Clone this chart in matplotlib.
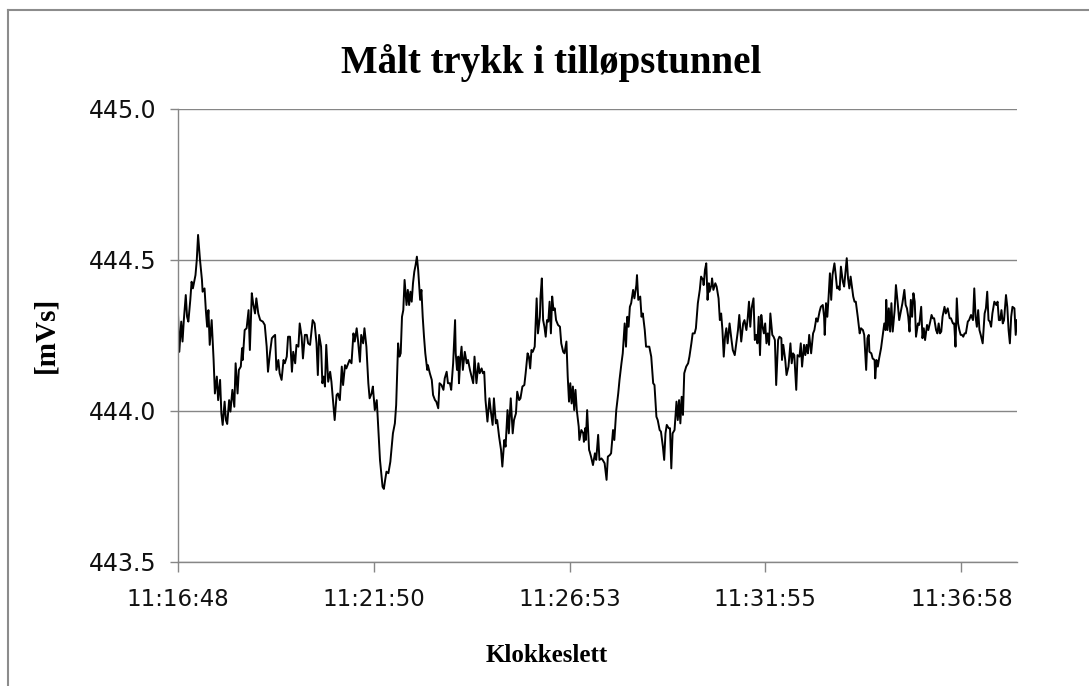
import matplotlib
matplotlib.use("Agg")
import matplotlib.pyplot as plt
from matplotlib.lines import Line2D
from matplotlib.ticker import FixedLocator, FuncFormatter

# Logging start: 11:16:48, time axis in seconds after start
start_of_log = 11 * 3600 + 16 * 60 + 48
tick_seconds = [0, 302, 605, 907, 1210]
y_ticks = [443.5, 444.0, 444.5, 445.0]

title = "Målt trykk i tilløpstunnel"
x_title = "Klokkeslett"
y_title = "[mVs]"

elapsed_s = [
    0, 2, 5, 7, 9, 12, 14, 16, 19, 21,
    23, 25, 27, 29, 31, 34, 37, 38, 41, 43,
    45, 47, 49, 52, 55, 57, 60, 62, 65, 67,
    69, 72, 74, 76, 79, 81, 84, 87, 89, 92,
    94, 97, 99, 100, 103, 106, 109, 111, 114, 116,
    119, 121, 124, 127, 131, 134, 137, 139, 142, 145,
    147, 150, 152, 155, 157, 160, 163, 165, 168, 170,
    173, 176, 178, 181, 183, 186, 188, 191, 193, 196,
    199, 201,
    204, 208, 211, 214, 216, 218, 221, 223, 225, 227,
    229, 232, 235, 237, 240, 242, 245, 247, 250, 253,
    255, 258, 260, 263, 265, 268, 271, 273, 276, 278,
    281, 283, 286, 288, 291, 294, 296, 299, 301, 304,
    307, 308, 312, 316, 318, 320, 322, 325, 328, 332,
    335, 337, 340, 342, 344, 346, 348, 350, 353, 355,
    357, 359, 361, 363, 365, 367, 369, 371, 374, 376,
    378, 380, 382, 385, 386, 389, 392, 394, 397, 399,
    402, 404, 407, 410, 412, 415, 417,
    420, 422, 425, 428, 429, 431, 433, 434, 436, 438,
    440, 443, 446, 448, 451, 453, 456, 458, 461, 464,
    466, 469, 471, 473, 475, 478, 481, 483, 486, 488,
    491, 493, 496, 499, 501, 504, 506, 509, 511, 514,
    517, 519, 522, 524, 527, 529, 532, 535, 537, 540,
    542, 544, 546, 548, 551, 554, 556, 559, 560, 562,
    564, 566, 568, 570, 572, 574, 576, 578, 580, 582,
    584, 587, 590, 592, 595, 597, 600, 602, 604, 606,
    608, 610, 612, 614, 616, 619, 620, 623, 626, 627,
    629, 630, 632, 635,
    636, 638, 641, 644, 646, 649, 651, 654, 656, 659,
    662, 664, 667, 669, 672, 674, 677, 680, 682, 685,
    687, 690, 692, 694, 696, 698, 700, 703, 705, 708,
    709, 711, 714, 716, 718, 721, 723, 726, 728, 731,
    734, 736, 739, 741, 744, 746, 749, 751, 753, 755,
    758, 760, 762, 764, 767, 770, 772, 774, 776, 778,
    780, 782, 785, 788, 790, 793, 795, 798, 800, 803,
    806, 808, 811, 812, 814, 816, 818, 820, 821, 824,
    825, 827, 830, 832, 835, 837, 839, 841, 843, 845,
    847, 849,
    852, 855, 857, 860, 862, 865, 867, 870, 873, 875,
    878, 880, 882, 884, 886, 889, 891, 893, 895, 897,
    899, 901, 903, 905, 907, 909, 911, 913, 915, 918,
    920, 922, 924, 927, 929, 932, 933, 935, 938, 940,
    943, 946, 948, 950, 952, 955, 957, 960, 962, 964,
    967, 969, 971, 973, 975, 978, 981, 983, 986, 988,
    991, 993, 996, 998, 999, 1001, 1003, 1005, 1007, 1009,
    1011, 1014, 1016, 1018, 1020, 1022, 1024, 1027, 1029, 1031,
    1033, 1035, 1037, 1039, 1041, 1043, 1045, 1047, 1050, 1053,
    1055, 1058, 1060, 1063, 1065, 1067,
    1068, 1071, 1073, 1076, 1077, 1079, 1081, 1083, 1086, 1089,
    1091, 1093, 1094, 1096, 1098, 1100, 1102, 1104, 1107, 1109,
    1112, 1114, 1117, 1119, 1122, 1124, 1126, 1128, 1130, 1132,
    1134, 1136, 1138, 1140, 1143, 1145, 1148, 1150, 1152, 1154,
    1157, 1159, 1162, 1164, 1166, 1168, 1171, 1173, 1175, 1177,
    1179, 1181, 1184, 1186, 1189, 1192, 1194, 1197, 1199, 1201,
    1203, 1205, 1207, 1209, 1211, 1213, 1215, 1217, 1220, 1222,
    1225, 1228, 1230, 1232, 1234, 1236, 1238, 1240, 1243, 1246,
    1248, 1250, 1252, 1254, 1256, 1258, 1261, 1264, 1266, 1268,
    1270, 1272, 1274, 1276, 1279, 1281, 1283, 1285, 1287, 1289,
    1292, 1294, 1296,
]

pressure_mvs = [
    444.323, 444.196, 444.296, 444.230, 444.301, 444.384, 444.312, 444.296, 444.368, 444.428,
    444.406, 444.428, 444.450, 444.500, 444.583, 444.500, 444.434, 444.395, 444.406, 444.334,
    444.279, 444.334, 444.219, 444.301, 444.169, 444.058, 444.114, 444.036, 444.103, 443.992,
    443.954, 444.031, 443.970, 443.957, 444.036, 443.998, 444.070, 444.014, 444.158, 444.058,
    444.136, 444.147, 444.208, 444.169, 444.268, 444.274, 444.334, 444.202, 444.390, 444.357,
    444.323, 444.373, 444.323, 444.301, 444.296, 444.285, 444.213, 444.130, 444.191, 444.241,
    444.246, 444.252, 444.136, 444.169, 444.125, 444.103, 444.169, 444.158, 444.180, 444.246,
    444.246, 444.130, 444.196, 444.158, 444.219, 444.213, 444.290, 444.246, 444.174, 444.252,
    444.252, 444.224,
    444.219, 444.301, 444.290, 444.224, 444.119, 444.252, 444.213, 444.092, 444.114, 444.081,
    444.219, 444.097, 444.130, 444.097, 444.020, 443.970, 444.053, 444.058, 444.036, 444.147,
    444.086, 444.152, 444.141, 444.158, 444.169, 444.158, 444.257, 444.230, 444.274, 444.235,
    444.163, 444.252, 444.224, 444.274, 444.213, 444.092, 444.042, 444.058, 444.081, 444.003,
    444.036, 443.998, 443.838, 443.749, 443.742, 443.772, 443.799, 443.794, 443.832, 443.926,
    443.959, 444.020, 444.224, 444.180, 444.191, 444.312, 444.334, 444.434, 444.351, 444.401,
    444.351, 444.395, 444.362, 444.423, 444.461, 444.483, 444.511, 444.467, 444.368, 444.401,
    444.312, 444.246, 444.191, 444.136, 444.152, 444.125, 444.103, 444.053, 444.036, 444.031,
    444.009, 444.092, 444.086, 444.070, 444.108, 444.130, 444.092,
    444.092, 444.070, 444.158, 444.301, 444.191, 444.136, 444.180, 444.092, 444.169, 444.213,
    444.136, 444.196, 444.158, 444.169, 444.136, 444.119, 444.092, 444.180, 444.092, 444.158,
    444.125, 444.141, 444.125, 444.130, 444.036, 443.965, 444.042, 444.003, 443.954, 444.042,
    443.959, 443.970, 443.915, 443.871, 443.816, 443.904, 443.882, 444.003, 443.926, 444.042,
    443.926, 443.970, 443.992, 444.064, 444.036, 444.042, 444.081, 444.086, 444.125, 444.191,
    444.180, 444.141, 444.202, 444.196, 444.213, 444.373, 444.257, 444.312, 444.379, 444.439,
    444.301, 444.279, 444.246, 444.301, 444.296, 444.362, 444.257, 444.379, 444.334, 444.340,
    444.301, 444.285, 444.279, 444.224, 444.196, 444.191, 444.230, 444.114, 444.031, 444.092,
    444.025, 444.081, 444.003, 444.070, 444.003, 443.948, 443.904, 443.937, 443.926, 443.898,
    443.943, 443.904, 444.003, 443.871,
    443.865, 443.849, 443.821, 443.860, 443.838, 443.921, 443.838, 443.843, 443.838, 443.827,
    443.772, 443.849, 443.854, 443.860, 443.937, 443.904, 444.003, 444.058, 444.103, 444.158,
    444.191, 444.290, 444.213, 444.312, 444.279, 444.345, 444.357, 444.401, 444.373, 444.417,
    444.450, 444.368, 444.379, 444.312, 444.323, 444.268, 444.213, 444.213, 444.213, 444.180,
    444.092, 444.086, 443.981, 443.970, 443.937, 443.932, 443.882, 443.838, 443.926, 443.954,
    443.943, 443.943, 443.810, 443.926, 443.937, 444.031, 443.970, 444.036, 443.959, 444.047,
    443.987, 444.125, 444.147, 444.158, 444.180, 444.224, 444.257, 444.257, 444.274, 444.357,
    444.401, 444.445, 444.434, 444.417, 444.467, 444.489, 444.368, 444.423, 444.395, 444.417,
    444.439, 444.401, 444.423, 444.412, 444.373, 444.301, 444.323, 444.268, 444.180, 444.246,
    444.274, 444.224,
    444.290, 444.235, 444.202, 444.185, 444.219, 444.268, 444.318, 444.230, 444.290, 444.301,
    444.268, 444.307, 444.362, 444.279, 444.340, 444.373, 444.235, 444.252, 444.224, 444.312,
    444.185, 444.318, 444.279, 444.257, 444.290, 444.224, 444.257, 444.219, 444.323, 444.252,
    444.246, 444.235, 444.086, 444.235, 444.246, 444.241, 444.169, 444.219, 444.169, 444.119,
    444.147, 444.224, 444.158, 444.191, 444.185, 444.070, 444.185, 444.180, 444.224, 444.147,
    444.219, 444.185, 444.219, 444.191, 444.252, 444.191, 444.257, 444.268, 444.307, 444.296,
    444.329, 444.345, 444.351, 444.312, 444.252, 444.357, 444.312, 444.379, 444.456, 444.368,
    444.450, 444.489, 444.450, 444.406, 444.412, 444.401, 444.478, 444.428, 444.412, 444.461,
    444.506, 444.439, 444.406, 444.445, 444.412, 444.379, 444.362, 444.362, 444.312, 444.257,
    444.274, 444.268, 444.252, 444.136, 444.241, 444.252,
    444.196, 444.191, 444.174, 444.169, 444.108, 444.169, 444.147, 444.174, 444.208, 444.257,
    444.290, 444.268, 444.368, 444.268, 444.340, 444.263, 444.357, 444.263, 444.334, 444.417,
    444.351, 444.301, 444.334, 444.357, 444.401, 444.351, 444.340, 444.312, 444.263, 444.368,
    444.312, 444.390, 444.362, 444.246, 444.290, 444.285, 444.345, 444.241, 444.274, 444.235,
    444.285, 444.268, 444.296, 444.318, 444.307, 444.307, 444.268, 444.257, 444.290, 444.257,
    444.263, 444.312, 444.345, 444.323, 444.340, 444.307, 444.307, 444.290, 444.290, 444.213,
    444.373, 444.290, 444.268, 444.252, 444.252, 444.246, 444.257, 444.257, 444.296, 444.301,
    444.318, 444.301, 444.406, 444.312, 444.279, 444.334, 444.268, 444.252, 444.224, 444.323,
    444.340, 444.395, 444.301, 444.296, 444.279, 444.323, 444.362, 444.351, 444.362, 444.301,
    444.301, 444.334, 444.290, 444.301, 444.384, 444.345, 444.268, 444.224, 444.312, 444.345,
    444.340, 444.252, 444.301,
]

W, H = 1089, 686
GRID = "#868686"
FRAME = "#8c8c8c"

fig = plt.figure(figsize=(W / 100, H / 100), dpi=100)
fig.patch.set_facecolor("white")

# plot area in pixel terms: x 178..1017, y 109..562
ax = fig.add_axes([178 / W, 1 - 562 / H, (1017 - 178) / W, (562 - 109) / H])
ax.plot(elapsed_s, pressure_mvs, color="black", lw=1.4, solid_joinstyle="round")

ax.set_xlim(0, 1296)
ax.set_ylim(y_ticks[0], y_ticks[-1])

ax.yaxis.set_major_locator(FixedLocator(y_ticks))
ax.yaxis.set_major_formatter(FuncFormatter(lambda v, _: f"{v:.1f}"))
ax.xaxis.set_major_locator(FixedLocator(tick_seconds))


def clock(sec, _):
    t = int(round(start_of_log + sec))
    return f"{t // 3600}:{(t % 3600) // 60:02d}:{t % 60:02d}"


ax.xaxis.set_major_formatter(FuncFormatter(clock))

ax.grid(axis="y", color=GRID, lw=1.0)
ax.set_axisbelow(True)
for side in ("top", "right"):
    ax.spines[side].set_visible(False)
for side in ("left", "bottom"):
    ax.spines[side].set_color(GRID)
    ax.spines[side].set_linewidth(1.0)

ax.tick_params(axis="y", direction="out", length=5.8, width=1.0, color=GRID,
               labelsize=17, pad=10)
ax.tick_params(axis="x", direction="out", length=7, width=1.0, color=GRID,
               labelsize=16.5, pad=12)
for lab in ax.get_xticklabels() + ax.get_yticklabels():
    lab.set_family("DejaVu Sans")
    lab.set_color("#111111")

serif = ["Liberation Serif", "DejaVu Serif"]
fig.text(551 / W, 1 - 63 / H, title, ha="center", va="center",
         fontsize=28, fontweight="bold", family=serif)
fig.text(547 / W, 1 - 655 / H, x_title, ha="center", va="center",
         fontsize=18, fontweight="bold", family=serif)
fig.text(46 / W, 1 - 335 / H, y_title, ha="center", va="center", rotation=90,
         fontsize=21, fontweight="bold", family=serif)

# chart frame (left and top edges)
fig.add_artist(Line2D([8 / W, 8 / W], [0, 1 - 10 / H], transform=fig.transFigure,
                      color=FRAME, lw=1.5))
fig.add_artist(Line2D([8 / W, 1], [1 - 10 / H, 1 - 10 / H], transform=fig.transFigure,
                      color=FRAME, lw=1.5))

fig.savefig("out.png", dpi=100, facecolor="white")
